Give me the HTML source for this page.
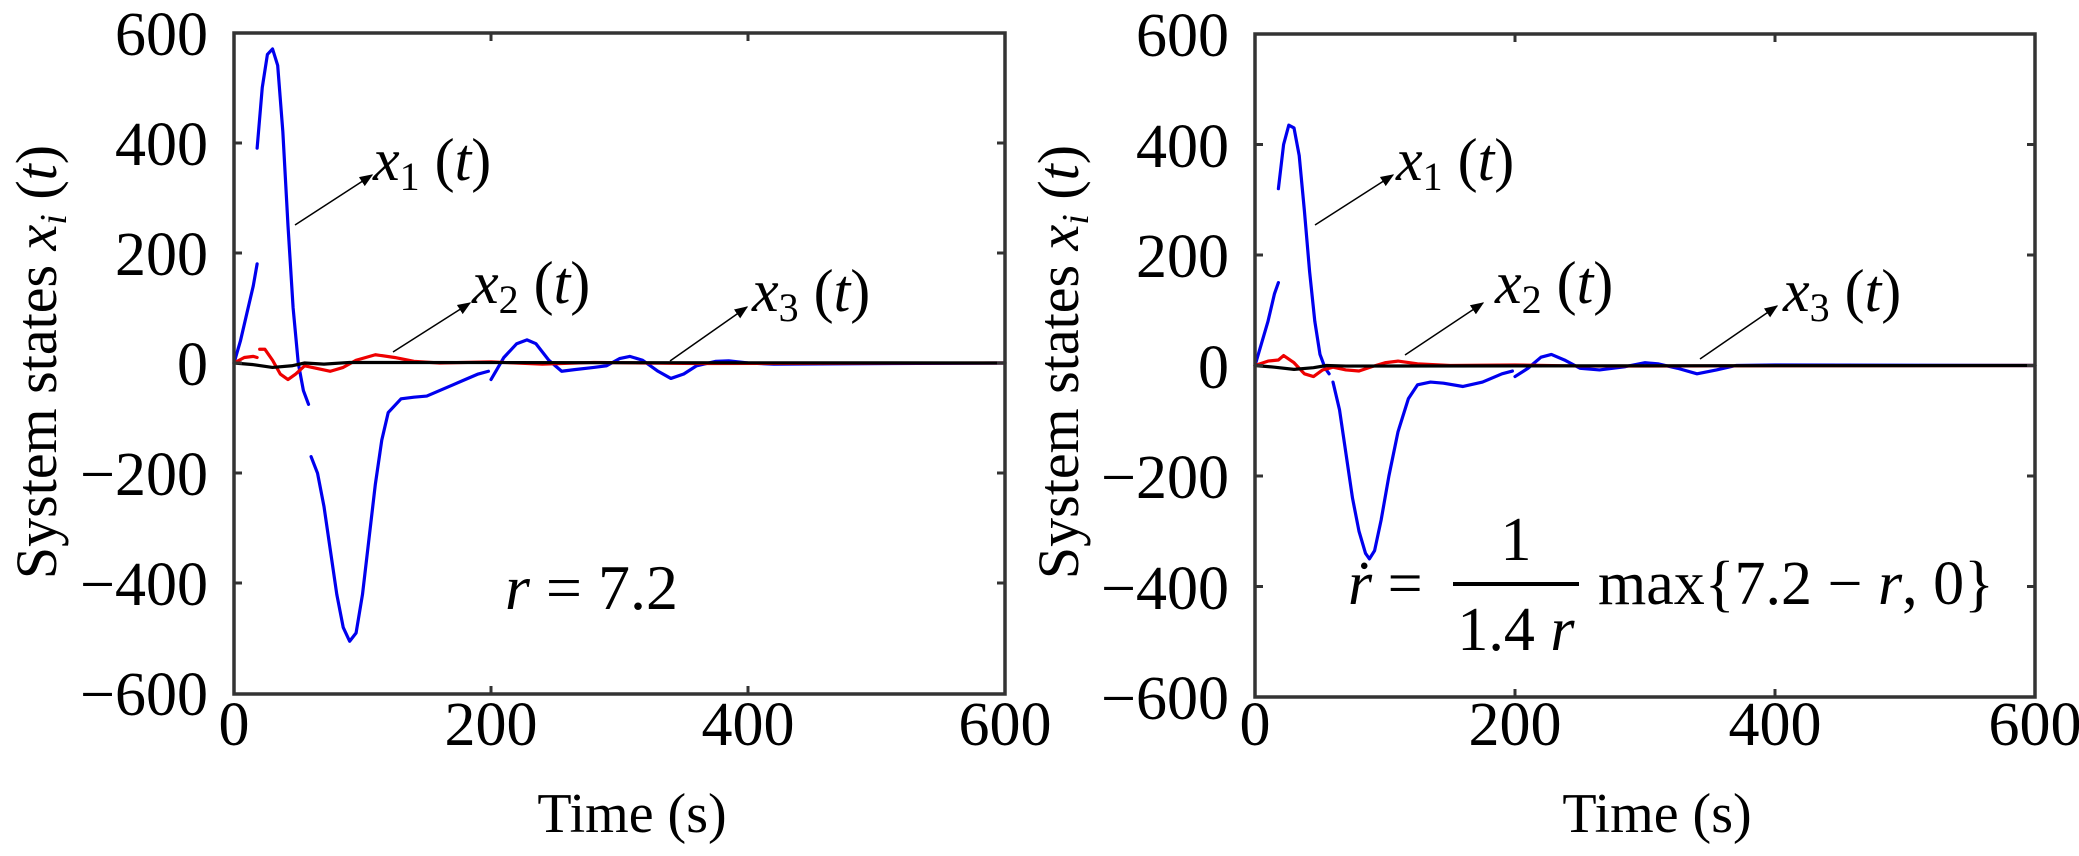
<!DOCTYPE html>
<html><head><meta charset="utf-8"><style>body{margin:0;background:#fff}svg{display:block}text{font-family:"Liberation Serif",serif;fill:#000}</style></head><body>
<svg width="2079" height="856" viewBox="0 0 2079 856" xmlns="http://www.w3.org/2000/svg">
<defs><marker id="ah" viewBox="0 0 10 10" refX="9" refY="5" markerWidth="9" markerHeight="9" orient="auto"><path d="M0,1 L10,5 L0,9 Z" fill="#000"/></marker></defs>
<!-- LEFT PLOT -->
<g transform="translate(234,363) scale(1.285,-0.551)" fill="none" stroke-width="3.2" stroke-linejoin="round" stroke-linecap="round">
<path vector-effect="non-scaling-stroke" stroke="#0000ee" d="M0,0 L5,40 10,90 15,140 18,180 M18,390 L22,500 26,560 30,570 34,540 38,420 42,250 46,100 50,0 54,-50 58,-75 M60,-170 L65,-200 70,-260 75,-340 80,-420 85,-480 90,-505 95,-490 100,-420 105,-320 110,-220 115,-140 120,-90 130,-65 140,-62 150,-60 160,-50 170,-40 180,-30 190,-20 198,-15 M200,-30 L205,-10 210,10 220,35 228,42 235,35 245,5 255,-15 265,-12 280,-8 290,-5 300,8 308,12 318,5 330,-15 340,-28 350,-20 360,-5 375,3 385,4 400,0 420,-2 600,0"/>
<path vector-effect="non-scaling-stroke" stroke="#ee0000" d="M0,0 L8,10 15,12 18,10 M20,25 L24,25 30,5 36,-20 42,-30 48,-20 55,-5 65,-10 75,-15 85,-8 95,5 110,15 125,10 140,3 160,0 200,2 240,-2 280,1 320,0 360,-1 600,0"/>
<path vector-effect="non-scaling-stroke" stroke="#000" d="M0,0 L15,-3 30,-8 45,-5 55,0 70,-2 90,1 600,0"/>
</g>
<rect x="234" y="33" width="771" height="661" fill="none" stroke="#333" stroke-width="3.5"/>
<g stroke="#333" stroke-width="3">
<path d="M491,33v8M748,33v8M491,694v-8M748,694v-8M234,143h8M234,253h8M234,363h8M234,473h8M234,583h8M1005,143h-8M1005,253h-8M1005,363h-8M1005,473h-8M1005,583h-8"/>
</g>
<g font-size="62" text-anchor="end">
<text x="208" y="55">600</text><text x="208" y="165">400</text><text x="208" y="275">200</text><text x="208" y="385">0</text><text x="208" y="495">−200</text><text x="208" y="605">−400</text><text x="208" y="715">−600</text>
</g>
<g font-size="62" text-anchor="middle">
<text x="234" y="745">0</text><text x="491" y="745">200</text><text x="748" y="745">400</text><text x="1005" y="745">600</text>
</g>
<text font-size="56" text-anchor="middle" x="632" y="832">Time (s)</text>
<text font-size="58" text-anchor="middle" transform="translate(56,362) rotate(-90)">System states <tspan font-style="italic">x</tspan><tspan font-style="italic" font-size="38" dy="10">i</tspan><tspan dy="-10"> (</tspan><tspan font-style="italic">t</tspan>)</text>
<g stroke="#000" stroke-width="1.5" marker-end="url(#ah)">
<line x1="295" y1="225" x2="372" y2="175"/><line x1="393" y1="352" x2="470" y2="303"/><line x1="670" y1="361" x2="747" y2="307"/>
</g>
<g font-size="60">
<text x="373" y="180"><tspan font-style="italic">x</tspan><tspan font-size="40" dy="10">1</tspan><tspan dy="-10"> (</tspan><tspan font-style="italic">t</tspan>)</text>
<text x="472" y="303"><tspan font-style="italic">x</tspan><tspan font-size="40" dy="10">2</tspan><tspan dy="-10"> (</tspan><tspan font-style="italic">t</tspan>)</text>
<text x="752" y="311"><tspan font-style="italic">x</tspan><tspan font-size="40" dy="10">3</tspan><tspan dy="-10"> (</tspan><tspan font-style="italic">t</tspan>)</text>
<text x="505" y="609" font-size="64"><tspan font-style="italic">r</tspan> = 7.2</text>
</g>
<!-- RIGHT PLOT -->
<g transform="translate(1255,365.5) scale(1.3,-0.5525)" fill="none" stroke-width="3.2" stroke-linejoin="round" stroke-linecap="round">
<path vector-effect="non-scaling-stroke" stroke="#0000ee" d="M0,0 L5,40 10,80 15,130 18,150 M18,320 L22,400 26,435 30,430 34,380 38,280 42,170 46,80 50,20 54,-5 57,-15 M60,-30 L65,-80 70,-160 75,-240 80,-300 85,-340 88,-350 92,-335 97,-280 103,-200 110,-120 118,-60 125,-35 135,-30 145,-32 160,-38 175,-30 190,-15 198,-10 M200,-20 L210,-5 220,15 228,20 238,10 250,-5 265,-8 285,-2 300,5 310,3 325,-5 340,-15 355,-8 370,0 400,1 600,0"/>
<path vector-effect="non-scaling-stroke" stroke="#ee0000" d="M0,0 L10,8 18,10 22,18 30,5 38,-15 45,-20 52,-8 60,-3 70,-8 80,-10 90,-2 100,5 110,8 125,3 150,0 200,1 250,-1 600,0"/>
<path vector-effect="non-scaling-stroke" stroke="#000" d="M0,0 L15,-3 30,-7 45,-4 55,0 70,-1 600,0"/>
</g>
<rect x="1255" y="34" width="780" height="663" fill="none" stroke="#333" stroke-width="3.5"/>
<g stroke="#333" stroke-width="3">
<path d="M1515,34v8M1775,34v8M1515,697v-8M1775,697v-8M1255,144.5h8M1255,255h8M1255,365.5h8M1255,476h8M1255,586.5h8M2035,144.5h-8M2035,255h-8M2035,365.5h-8M2035,476h-8M2035,586.5h-8"/>
</g>
<g font-size="62" text-anchor="end">
<text x="1229" y="56">600</text><text x="1229" y="167">400</text><text x="1229" y="277">200</text><text x="1229" y="388">0</text><text x="1229" y="498">−200</text><text x="1229" y="609">−400</text><text x="1229" y="719">−600</text>
</g>
<g font-size="62" text-anchor="middle">
<text x="1255" y="745">0</text><text x="1515" y="745">200</text><text x="1775" y="745">400</text><text x="2035" y="745">600</text>
</g>
<text font-size="56" text-anchor="middle" x="1657" y="832">Time (s)</text>
<text font-size="58" text-anchor="middle" transform="translate(1078,362) rotate(-90)">System states <tspan font-style="italic">x</tspan><tspan font-style="italic" font-size="38" dy="10">i</tspan><tspan dy="-10"> (</tspan><tspan font-style="italic">t</tspan>)</text>
<g stroke="#000" stroke-width="1.5" marker-end="url(#ah)">
<line x1="1315" y1="225" x2="1393" y2="175"/><line x1="1405" y1="355" x2="1483" y2="303"/><line x1="1700" y1="359" x2="1777" y2="306"/>
</g>
<g font-size="60">
<text x="1396" y="180"><tspan font-style="italic">x</tspan><tspan font-size="40" dy="10">1</tspan><tspan dy="-10"> (</tspan><tspan font-style="italic">t</tspan>)</text>
<text x="1495" y="303"><tspan font-style="italic">x</tspan><tspan font-size="40" dy="10">2</tspan><tspan dy="-10"> (</tspan><tspan font-style="italic">t</tspan>)</text>
<text x="1783" y="311"><tspan font-style="italic">x</tspan><tspan font-size="40" dy="10">3</tspan><tspan dy="-10"> (</tspan><tspan font-style="italic">t</tspan>)</text>
<text x="1348" y="604" font-size="62"><tspan font-style="italic">ṙ</tspan> =</text>
<text x="1516" y="560" text-anchor="middle" font-size="62">1</text>
<text x="1516" y="650" text-anchor="middle" font-size="62">1.4 <tspan font-style="italic">r</tspan></text>
<text x="1598" y="604" font-size="62">max{7.2 − <tspan font-style="italic">r</tspan>, 0}</text>
</g>
<rect x="1453" y="582" width="126" height="4" fill="#000"/>
</svg>
</body></html>
